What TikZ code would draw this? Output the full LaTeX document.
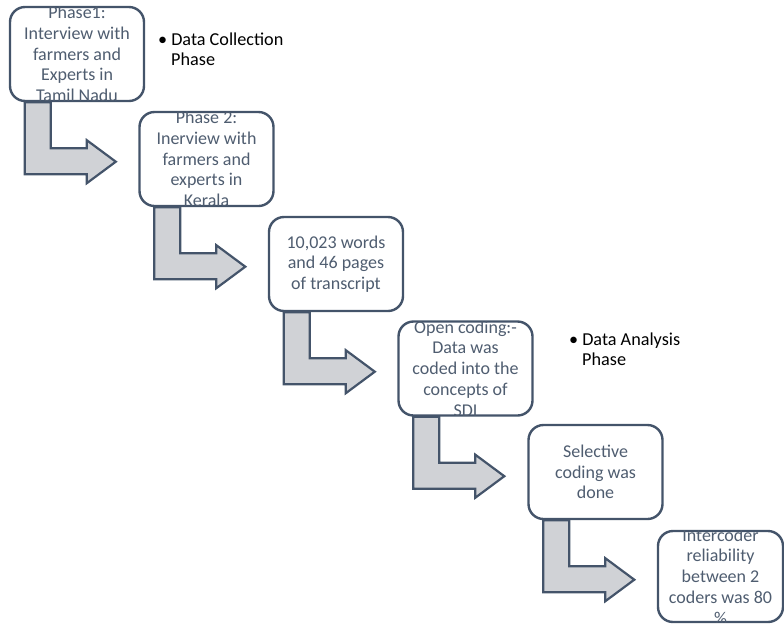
\documentclass[tikz,border=0pt]{standalone}
\usepackage{fontspec}
\setmainfont{Carlito}
\usetikzlibrary{calc}
\definecolor{slate}{HTML}{44546A}
\definecolor{slatetext}{HTML}{4F5D70}
\definecolor{arrowfill}{HTML}{D0D2D6}
\tikzset{
  stepbox/.style={draw=slate, line width=2.4pt, rounded corners=15pt, fill=white,
    minimum width=134pt, minimum height=94pt, inner sep=0pt},
  boxtext/.style={text=slatetext, align=center, font=\fontsize{18}{20.8}\selectfont, inner sep=0pt},
  bentarrow/.style={draw=slate, line width=2.2pt, fill=arrowfill, line join=miter},
  bullettext/.style={anchor=north west, align=left, font=\fontsize{18.2}{19.5}\selectfont, inner sep=0pt}
}
\newcommand{\bentarrowfrom}[1]{%
  \path[bentarrow]
    ($(#1.south west)+(16,0)$) -- ($(#1.south west)+(16,72)$) -- ($(#1.south west)+(78,72)$)
    -- ($(#1.south west)+(78,81)$) -- ($(#1.south west)+(107,59.5)$) -- ($(#1.south west)+(78,38)$)
    -- ($(#1.south west)+(78,46)$) -- ($(#1.south west)+(42,46)$) -- ($(#1.south west)+(42,0)$) -- cycle;}
\newcommand{\clippedtext}[3]{%
  \begin{scope}
    \clip ($(#1.south west)+(1,-1)$) rectangle ($(#1.north east)+(-1,1)$);
    \node[boxtext] (#2) at (#1.center) {#3};
  \end{scope}}
\begin{document}
\begin{tikzpicture}[x=1pt,y=-1pt]
\useasboundingbox (0,0) rectangle (784,625);
% box positions (centres)
\path (77,54) coordinate (c1)
      (206.5,159) coordinate (c2)
      (336,264) coordinate (c3)
      (465.5,368.5) coordinate (c4)
      (595.5,472) coordinate (c5)
      (720.5,576.5) coordinate (c6);
% invisible placement of boxes to get anchors
\node[stepbox, draw=none, fill=none] (b1) at (c1) {};
\node[stepbox, draw=none, fill=none] (b2) at (c2) {};
\node[stepbox, draw=none, fill=none] (b3) at (c3) {};
\node[stepbox, draw=none, fill=none] (b4) at (c4) {};
\node[stepbox, draw=none, fill=none] (b5) at (c5) {};
\node[stepbox, draw=none, fill=none, minimum width=125pt, minimum height=91pt] (b6) at (c6) {};
% arrows
\bentarrowfrom{b1}
\bentarrowfrom{b2}
\bentarrowfrom{b3}
\bentarrowfrom{b4}
\bentarrowfrom{b5}
% boxes
\node[stepbox] (box1) at (c1) {};
\node[stepbox] (box2) at (c2) {};
\node[stepbox] (box3) at (c3) {};
\node[stepbox] (box4) at (c4) {};
\node[stepbox] (box5) at (c5) {};
\node[stepbox, minimum width=125pt, minimum height=91pt] (box6) at (c6) {};
% texts
\clippedtext{box1}{t1}{Phase1:\\Interview with\\farmers and\\Experts in\\Tamil Nadu}
\clippedtext{box2}{t2}{Phase 2:\\Inerview with\\farmers and\\experts in\\Kerala}
\clippedtext{box3}{t3}{10,023 words\\and 46 pages\\of transcript}
\clippedtext{box4}{t4}{Open coding:-\\Data was\\coded into the\\concepts of\\SDI}
\clippedtext{box5}{t5}{Selective\\coding was\\done}
\clippedtext{box6}{t6}{Intercoder\\reliability\\between 2\\coders was 80\\\%}
% bullets
\node[bullettext] (l1) at (158,33) {•\hspace{4pt}Data Collection\\\hspace*{13pt}Phase};
\node[bullettext] (l2) at (569,333) {•\hspace{4pt}Data Analysis\\\hspace*{13pt}Phase};
\end{tikzpicture}
\end{document}
